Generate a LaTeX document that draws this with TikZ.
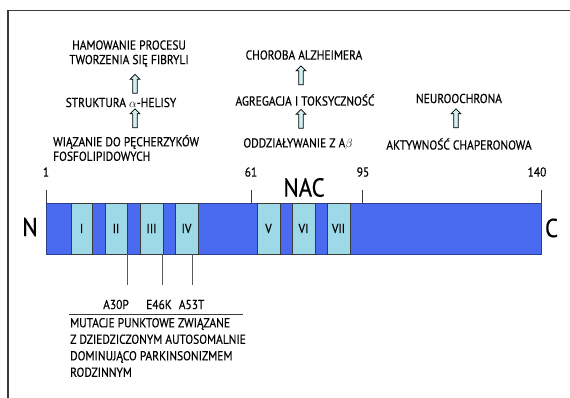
\documentclass[tikz,border=0pt]{standalone}
\usepackage{fontspec}
\newfontfamily\condsans[FakeStretch=0.88, FakeBold=0.4]{PT Sans}
\usepackage{xcolor}
\definecolor{BarBlue}{HTML}{4A6BEF}
\definecolor{SegCyan}{HTML}{9DD9E6}
\definecolor{ArrowCyan}{HTML}{CFEFF0}
\definecolor{FrameGray}{HTML}{3A3A3A}
\usetikzlibrary{shapes.arrows,positioning,calc}

\begin{document}
\begin{tikzpicture}[x=1pt, y=-1pt,
        txt/.style={font=\condsans\fontsize{13}{14.5}\selectfont, text=black, inner sep=0pt},
        mutxt/.style={font=\condsans\fontsize{13}{16.5}\selectfont, text=black, inner sep=0pt, align=left},
        big/.style={font=\condsans\fontsize{26}{28}\selectfont, text=black, inner sep=0pt},
        barbox/.style={fill=BarBlue, draw=BarBlue!60!black, line width=0.4pt, minimum height=51pt, inner sep=0pt},
        segbox/.style={fill=SegCyan, draw=FrameGray, line width=0.5pt, minimum height=51pt, inner sep=0pt,
            font=\condsans\fontsize{13}{14}\selectfont},
        uparrow/.style={single arrow, draw=black, line width=0.75pt, fill=ArrowCyan, shape border rotate=90,
            minimum height=19pt, minimum width=9.5pt, inner sep=1.9pt, single arrow head extend=2.6pt},
        tick/.style={draw=FrameGray, line width=0.8pt},
        mutline/.style={draw=FrameGray!85, line width=0.8pt},
        frame/.style={draw=FrameGray, line width=1.1pt}
    ]
        \useasboundingbox (0,0) rectangle (570,398);

        % Open frame, top and left side only
        \draw[frame] (8,398) -- (8,10.5) -- (570,10.5);

        % Functional chains above the protein
        \node[txt, align=center] (inhib) at (129,53.5) {HAMOWANIE PROCESU\\TWORZENIA SIĘ FIBRYLI};
        \node[uparrow] (ar1) at (135,85) {};
        \node[txt] (helix) at (121,102.5) {STRUKTURA $\alpha$-HELISY};
        \node[uparrow] (ar2) at (135,119.5) {};
        \node[txt, align=left, anchor=west] (vesic) at (53,148) {WIĄZANIE DO PĘCHERZYKÓW\\FOSFOLIPIDOWYCH};

        \node[txt] (alzh) at (304,55) {CHOROBA ALZHEIMERA};
        \node[uparrow] (ar3) at (301,76.5) {};
        \node[txt] (aggr) at (305,100) {AGREGACJA I TOKSYCZNOŚĆ};
        \node[uparrow] (ar4) at (301,120) {};
        \node[txt] (abeta) at (298,144) {ODDZIAŁYWANIE Z A$\beta$};

        \node[txt] (neuro) at (459,98.5) {NEUROOCHRONA};
        \node[uparrow] (ar5) at (456,119.5) {};
        \node[txt] (chap) at (459,144) {AKTYWNOŚĆ CHAPERONOWA};

        % Residue numbering and NAC region
        \foreach \x/\lx/\num/\nm in {46/46/1/r1, 251/251/61/r61, 362/363/95/r95, 541/537/140/r140} {
            \node[txt] (\nm) at (\lx,172) {\num};
            \coordinate (\nm t) at (\x,190);
        }
        \node[big] (nac) at (304,187.5) {NAC};

        % Protein chain with the seven repeat segments
        \node[barbox, minimum width=495pt] (bar) at (293.5,228.5) {};
        \foreach \nm in {r1, r61, r95, r140}
            \draw[tick] (\nm t) -- (\nm t |- bar.north);
        \foreach \xa/\xb/\lab/\nm in {71/92/I/sI, 105/127/II/sII, 140/163/III/sIII, 175/198/IV/sIV,
                                      257/280/V/sV, 292/315/VI/sVI, 327/350/VII/sVII} {
            \pgfmathsetmacro\segw{\xb-\xa}
            \node[segbox, minimum width=\segw pt] (\nm) at ({(\xa+\xb)/2},228.5) {\lab};
        }
        \node[big] (nterm) at (30,227) {N};
        \node[big] (cterm) at (551.5,228) {C};

        % Point mutations
        \foreach \x/\nm in {127.5/mA, 162.7/mB, 192.3/mC} {
            \coordinate (\nm) at (\x,285);
            \draw[mutline] (bar.south -| \nm) -- (\nm);
        }
        \node[txt] (a30p) at (116,304.5) {A30P};
        \node[txt] (e46k) at (159,304.5) {E46K};
        \node[txt] (a53t) at (191.6,304.5) {A53T};
        \draw[tick] (69,314.3) -- (243,314.3);
        \node[mutxt, anchor=west] (mutdesc) at (70,347.5) {MUTACJE PUNKTOWE ZWIĄZANE\\Z DZIEDZICZONYM AUTOSOMALNIE\\DOMINUJĄCO PARKINSONIZMEM\\RODZINNYM};
    \end{tikzpicture}
\end{document}
